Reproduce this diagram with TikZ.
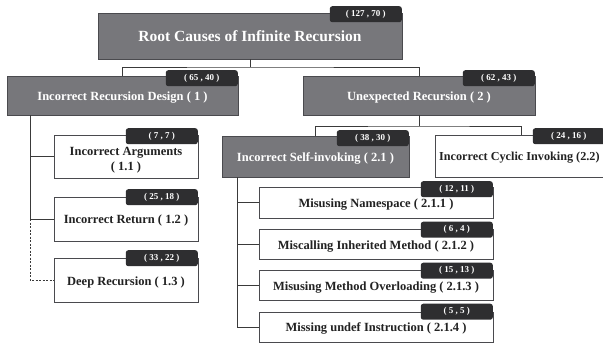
\documentclass[tikz,border=0pt]{standalone}
\usepackage{fontspec}
\setmainfont{Liberation Serif}
\usetikzlibrary{calc}
\definecolor{boxgray}{HTML}{77777B}
\definecolor{badgedark}{HTML}{2E2E30}
\definecolor{boxline}{HTML}{4A4A4E}
\definecolor{connline}{HTML}{3A3A3A}
\definecolor{textdark}{HTML}{222222}
\tikzset{
  graybox/.style={draw=boxline, fill=boxgray, inner sep=0pt, line width=0.8pt},
  whitebox/.style={draw=boxline, fill=white, inner sep=0pt, line width=0.8pt},
  graytext/.style={text=white, inner sep=0pt, anchor=base, font=\bfseries\fontsize{12.5}{15}\selectfont},
  whitetext/.style={text=textdark, inner sep=0pt, anchor=base, font=\bfseries\fontsize{12.5}{15}\selectfont},
  badge/.style={fill=badgedark, rounded corners=2.5pt, text=white, inner sep=0pt,
    minimum width=72pt, minimum height=16pt, anchor=north east,
    font=\bfseries\fontsize{9}{10}\selectfont},
  conn/.style={draw=connline, line width=0.8pt},
}
\begin{document}
\begin{tikzpicture}[x=1pt,y=-1pt]
\useasboundingbox (0,0) rectangle (603,343);

% boxes
\node[graybox, minimum width=304pt, minimum height=46pt] (root) at (250,36) {};
\node[graytext, font=\bfseries\fontsize{15.5}{18}\selectfont] (roott) at (250,41) {Root Causes of Infinite Recursion};
\node[badge] (rootb) at (402,6) {( 127 , 70 )};

\node[graybox, minimum width=231pt, minimum height=39pt] (b1) at (122.5,95.5) {};
\node[graytext] (b1t) at (122.5,100) {Incorrect Recursion Design ( 1 )};
\node[badge] (b1b) at (238,70) {( 65 , 40 )};

\node[graybox, minimum width=232pt, minimum height=39pt] (b2) at (419,95.5) {};
\node[graytext] (b2t) at (419,100) {Unexpected Recursion ( 2 )};
\node[badge] (b2b) at (535,70) {( 62 , 43 )};

\node[whitebox, minimum width=144pt, minimum height=43pt] (b11) at (126,156.5) {};
\node[whitetext] (b11t) at (126,155.5) {Incorrect Arguments};
\node[whitetext] (b11u) at (126,170) {( 1.1 )};
\node[badge] (b11b) at (198,128) {( 7 , 7 )};

\node[whitebox, minimum width=144pt, minimum height=44pt] (b12) at (126,219) {};
\node[whitetext] (b12t) at (126,223.5) {Incorrect Return ( 1.2 )};
\node[badge] (b12b) at (198,189) {( 25 , 18 )};

\node[whitebox, minimum width=144pt, minimum height=44pt] (b13) at (126,280) {};
\node[whitetext] (b13t) at (126,285) {Deep Recursion ( 1.3 )};
\node[badge] (b13b) at (198,250) {( 33 , 22 )};

\node[graybox, minimum width=187pt, minimum height=41pt] (b21) at (315.5,156.5) {};
\node[graytext] (b21t) at (315.5,161) {Incorrect Self-invoking ( 2.1 )};
\node[badge] (b21b) at (409,130) {( 38 , 30 )};

\node[whitebox, minimum width=172pt, minimum height=42pt] (b22) at (521,156) {};
\node[whitetext, anchor=base west, font=\bfseries\fontsize{12.2}{15}\selectfont] (b22t) at (439,160.5) {Incorrect Cyclic Invoking (2.2)};
\node[badge] (b22b) at (605,128) {( 24 , 16 )};

\node[whitebox, minimum width=234pt, minimum height=31pt] (b211) at (376,202.5) {};
\node[whitetext] (b211t) at (376,207.5) {Misusing Namespace ( 2.1.1 )};
\node[badge] (b211b) at (493,181) {( 12 , 11 )};

\node[whitebox, minimum width=234pt, minimum height=30pt] (b212) at (376,244) {};
\node[whitetext] (b212t) at (376,249) {Miscalling Inherited Method ( 2.1.2 )};
\node[badge] (b212b) at (493,221.5) {( 6 , 4 )};

\node[whitebox, minimum width=234pt, minimum height=30pt] (b213) at (376,285) {};
\node[whitetext] (b213t) at (376,290.5) {Misusing Method Overloading ( 2.1.3 )};
\node[badge] (b213b) at (493,262.5) {( 15 , 13 )};

\node[whitebox, minimum width=234pt, minimum height=30pt] (b214) at (376,327) {};
\node[whitetext] (b214t) at (376,331.5) {Missing undef Instruction ( 2.1.4 )};
\node[badge] (b214b) at (493,303.5) {( 5 , 5 )};

% junction coordinates
\coordinate (j0) at (250,67);
\coordinate (j2) at (419,126);
\coordinate (t1) at (30,0);
\coordinate (t2) at (237,0);

% connectors
\draw[conn] (root.south) -- (j0);
\draw[conn] (b1.north) |- (j0) -| (b2.north);
\draw[conn] (b2.south) -- (j2);
\draw[conn] (b21.north) |- (j2) -| (b22.north);

\draw[conn] (b1.south -| t1) -- (b12.west -| t1) -- (b12.west);
\draw[conn] (b11.west -| t1) -- (b11.west);
\draw[conn, dashed, line width=0.6pt, dash pattern=on 2pt off 1.5pt] (b12.west -| t1) |- (b13.west);

\draw[conn] (b21.south -| t2) |- (b214.west);
\draw[conn] (b211.west -| t2) -- (b211.west);
\draw[conn] (b212.west -| t2) -- (b212.west);
\draw[conn] (b213.west -| t2) -- (b213.west);
\end{tikzpicture}
\end{document}
